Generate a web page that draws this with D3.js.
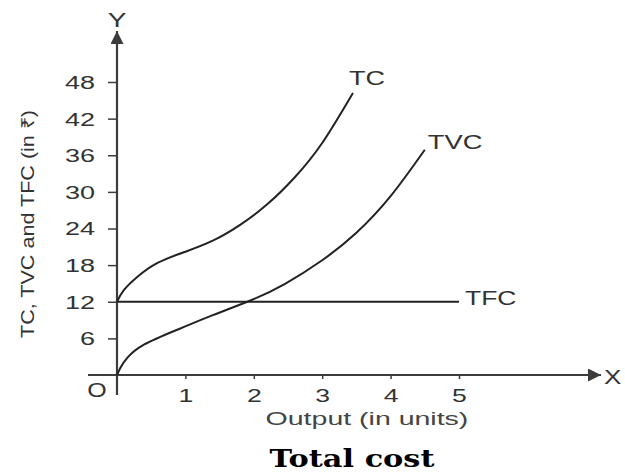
<!DOCTYPE html>
<html>
<head>
<meta charset="utf-8">
<script src="https://cdn.jsdelivr.net/npm/d3@7"></script>
<style>
  html, body { margin: 0; padding: 0; background: #fff; }
  svg { display: block; }
</style>
</head>
<body>
<svg id="chart" width="625" height="476" font-family="Liberation Sans, Arial, sans-serif"></svg>
<script>
// Output levels and cost values (₹)
const outputTicks = [1, 2, 3, 4, 5];
const costTicks = [6, 12, 18, 24, 30, 36, 42, 48];

const tcOutput = [0, 0.1, 0.3, 0.6, 1.0, 1.4, 1.8, 2.2, 2.6, 3.0, 3.45];
const tcValues = [12, 13.9, 16.1, 18.4, 20.2, 22.0, 24.6, 28.0, 32.4, 38.0, 46.2];

const tvcOutput = [0, 0.05, 0.15, 0.4, 0.9, 1.4, 1.95, 2.45, 3.0, 3.5, 4.0, 4.5];
const tvcValues = [0, 1.2, 2.8, 5.0, 7.5, 9.8, 12.2, 14.9, 18.8, 23.3, 29.3, 36.9];

const tfcOutput = [0, 5];
const tfcValues = [12, 12];

const svg = d3.select("#chart");
const x = d3.scaleLinear().domain([0, 5]).range([117, 459]);
const y = d3.scaleLinear().domain([0, 48]).range([375, 82]);

const axisColor = "#3c3c3c";
const inkColor = "#222";
const textColor = "#333";

// widen glyphs horizontally by a factor, keeping the anchor
function widen(sel, factor) {
  sel.each(function () {
    const w = this.getComputedTextLength();
    d3.select(this).attr("textLength", w * factor).attr("lengthAdjust", "spacingAndGlyphs");
  });
  return sel;
}

// arrowheads
svg.append("defs").append("marker")
  .attr("id", "arrow")
  .attr("viewBox", "0 0 10 10")
  .attr("refX", 10).attr("refY", 5)
  .attr("markerWidth", 15).attr("markerHeight", 13)
  .attr("markerUnits", "userSpaceOnUse")
  .attr("orient", "auto")
  .append("path").attr("d", "M0,0 L10,5 L0,10 Z").attr("fill", axisColor);

// y axis ticks and labels
const yAxis = svg.append("g").attr("transform", `translate(${x(0)},0)`)
  .call(d3.axisLeft(y).tickValues(costTicks).tickSize(9).tickPadding(13));
yAxis.select(".domain").remove();
yAxis.selectAll("line").attr("stroke", axisColor).attr("stroke-width", 1.5);
yAxis.selectAll("text").attr("font-size", 18).attr("fill", textColor)
  .attr("font-family", null).attr("dy", "0.36em");
widen(yAxis.selectAll("text"), 1.5);

// x axis ticks and labels
const xAxis = svg.append("g").attr("transform", `translate(0,${y(0)})`)
  .call(d3.axisBottom(x).tickValues(outputTicks).tickFormat(d3.format("d")).tickSize(4).tickPadding(10));
xAxis.select(".domain").remove();
xAxis.selectAll("line").attr("stroke", axisColor).attr("stroke-width", 1.5);
xAxis.selectAll("text").attr("font-size", 19).attr("fill", textColor)
  .attr("font-family", null);
widen(xAxis.selectAll("text"), 1.4);

// axis lines with arrows
svg.append("line")
  .attr("x1", x(0)).attr("y1", 395).attr("x2", x(0)).attr("y2", 31)
  .attr("stroke", axisColor).attr("stroke-width", 2.2)
  .attr("marker-end", "url(#arrow)");
svg.append("line")
  .attr("x1", 88).attr("y1", y(0)).attr("x2", 601).attr("y2", y(0))
  .attr("stroke", axisColor).attr("stroke-width", 2.2)
  .attr("marker-end", "url(#arrow)");

// axis letters
widen(svg.append("text").attr("x", x(0)).attr("y", 27).attr("text-anchor", "middle")
  .attr("font-size", 20).attr("fill", textColor).text("Y"), 1.4);
widen(svg.append("text").attr("x", 604).attr("y", 384).attr("text-anchor", "start")
  .attr("font-size", 20).attr("fill", textColor).text("X"), 1.3);
widen(svg.append("text").attr("x", 97).attr("y", 397).attr("text-anchor", "middle")
  .attr("font-size", 20).attr("fill", textColor).text("O"), 1.25);

// cost curves (natural cubic spline through the points)
const line = d3.line().x(d => x(d[0])).y(d => y(d[1])).curve(d3.curveNatural);
const series = [
  { name: "TC", xs: tcOutput, ys: tcValues },
  { name: "TVC", xs: tvcOutput, ys: tvcValues },
  { name: "TFC", xs: tfcOutput, ys: tfcValues }
];
series.forEach(s => {
  svg.append("path")
    .datum(s.xs.map((v, i) => [v, s.ys[i]]))
    .attr("d", line)
    .attr("fill", "none")
    .attr("stroke", inkColor)
    .attr("stroke-width", 2);
});

// curve labels
const lastOf = s => [s.xs[s.xs.length - 1], s.ys[s.ys.length - 1]];
const tcEnd = lastOf(series[0]), tvcEnd = lastOf(series[1]), tfcEnd = lastOf(series[2]);
widen(svg.append("text").attr("x", x(tcEnd[0]) - 4).attr("y", y(tcEnd[1]) - 8)
  .attr("font-size", 20).attr("fill", textColor).text("TC"), 1.35);
widen(svg.append("text").attr("x", x(tvcEnd[0]) + 3).attr("y", y(tvcEnd[1]) - 1)
  .attr("font-size", 21).attr("fill", textColor).text("TVC"), 1.3);
widen(svg.append("text").attr("x", x(tfcEnd[0]) + 6).attr("y", y(tfcEnd[1]) + 3)
  .attr("font-size", 20).attr("fill", textColor).text("TFC"), 1.32);

// axis titles
const yTitle = svg.append("text")
  .attr("transform", `translate(34,224) rotate(-90)`)
  .attr("text-anchor", "middle")
  .attr("font-size", 18).attr("fill", textColor)
  .text("TC, TVC and TFC (in ₹)");
yTitle.attr("textLength", 228).attr("lengthAdjust", "spacingAndGlyphs");

widen(svg.append("text").attr("x", 367).attr("y", 425).attr("text-anchor", "middle")
  .attr("font-size", 19).attr("fill", "#444").text("Output (in units)"), 1.5);

// chart title
svg.append("text").attr("x", 352).attr("y", 467).attr("text-anchor", "middle")
  .attr("font-family", "DejaVu Serif, serif").attr("font-weight", "bold")
  .attr("font-size", 25).attr("fill", "#000")
  .attr("textLength", 165).attr("lengthAdjust", "spacingAndGlyphs")
  .text("Total cost");
</script>
</body>
</html>
